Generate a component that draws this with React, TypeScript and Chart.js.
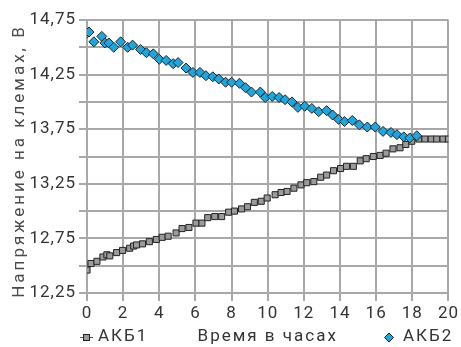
import React, { useEffect, useRef } from 'react';
import { Chart, registerables } from 'chart.js';
Chart.register(...registerables);

const hoursAKB1 = [0, 0.22, 0.55, 0.88, 1.1, 1.26, 1.64, 1.97, 2.36, 2.58, 2.74, 3.07, 3.45, 3.84, 4.16, 4.49, 4.93, 5.26, 5.64, 6.03, 6.36, 6.68, 7.07, 7.45, 7.84, 8.16, 8.55, 8.88, 9.26, 9.64, 9.97, 10.41, 10.74, 11.07, 11.45, 11.84, 12.16, 12.55, 12.93, 13.26, 13.64, 14.03, 14.36, 14.74, 15.12, 15.45, 15.84, 16.22, 16.55, 16.93, 17.32, 17.64, 17.97, 18.36, 18.7, 19.05, 19.35, 19.7, 20.0];
const voltsAKB1 = [12.46, 12.52, 12.54, 12.58, 12.60, 12.59, 12.62, 12.64, 12.66, 12.68, 12.69, 12.70, 12.72, 12.74, 12.76, 12.77, 12.80, 12.84, 12.85, 12.89, 12.89, 12.94, 12.95, 12.95, 12.99, 13.00, 13.02, 13.04, 13.08, 13.09, 13.12, 13.15, 13.17, 13.18, 13.21, 13.24, 13.26, 13.27, 13.31, 13.33, 13.37, 13.39, 13.41, 13.41, 13.46, 13.48, 13.50, 13.51, 13.53, 13.57, 13.58, 13.61, 13.64, 13.66, 13.66, 13.66, 13.66, 13.66, 13.66];

const hoursAKB2 = [0, 0.11, 0.38, 0.82, 0.99, 1.21, 1.48, 1.86, 2.25, 2.52, 2.96, 3.29, 3.67, 4.0, 4.38, 4.77, 5.04, 5.48, 5.86, 6.25, 6.58, 6.96, 7.29, 7.67, 8.0, 8.44, 8.77, 9.10, 9.59, 9.86, 10.25, 10.63, 10.96, 11.34, 11.67, 12.05, 12.44, 12.82, 13.26, 13.59, 13.92, 14.25, 14.68, 15.07, 15.51, 15.95, 16.38, 16.82, 17.15, 17.53, 17.86, 18.25];
const voltsAKB2 = [14.63, 14.64, 14.55, 14.60, 14.54, 14.54, 14.50, 14.55, 14.50, 14.52, 14.48, 14.45, 14.44, 14.39, 14.38, 14.35, 14.36, 14.31, 14.27, 14.27, 14.24, 14.23, 14.21, 14.18, 14.18, 14.17, 14.13, 14.09, 14.09, 14.04, 14.05, 14.04, 14.02, 14.00, 13.95, 13.96, 13.94, 13.91, 13.92, 13.88, 13.84, 13.82, 13.83, 13.79, 13.77, 13.77, 13.73, 13.72, 13.70, 13.68, 13.67, 13.69];

const seriesNames = ['АКБ1', 'АКБ2'];
const xTitle = 'Время в часах';
const yTitle = 'Напряжение на клемах, В';
const yMin = 12.25;
const yMax = 14.75;
const xMin = 0;
const xMax = 20;

const FONT = 'Roboto';
const TEXT = '#333333';
const YTITLE = '#4a4a4a';
const GRID = '#a8a8a8';
const GREY_FILL = '#9b9b9b';
const BLUE_FILL = '#1fa6df';
const EDGE = '#222222';

const textPlugin = {
  id: 'textSpacing',
  beforeDraw(chart: any) {
    chart.ctx.letterSpacing = '1px';
  },
  afterDraw(chart: any) {
    const ctx = chart.ctx;
    const area = chart.chartArea;
    const y = 337;
    ctx.save();
    ctx.font = `17px ${FONT}`;
    ctx.textBaseline = 'middle';
    ctx.letterSpacing = '2px';
    // x title
    ctx.textAlign = 'center';
    ctx.fillStyle = TEXT;
    ctx.fillText(xTitle, (area.left + area.right) / 2, y);
    ctx.textAlign = 'left';
    // АКБ1
    ctx.strokeStyle = '#555';
    ctx.lineWidth = 1;
    ctx.beginPath();
    ctx.moveTo(80, y + 0.5);
    ctx.lineTo(93, y + 0.5);
    ctx.stroke();
    ctx.fillStyle = GREY_FILL;
    ctx.fillRect(83, y - 3, 7, 7);
    ctx.strokeStyle = EDGE;
    ctx.strokeRect(83.5, y - 2.5, 6, 6);
    ctx.fillStyle = TEXT;
    ctx.fillText(seriesNames[0], 98, y);
    // АКБ2
    ctx.beginPath();
    ctx.moveTo(389, y - 4);
    ctx.lineTo(393.5, y + 0.5);
    ctx.lineTo(389, y + 5);
    ctx.lineTo(384.5, y + 0.5);
    ctx.closePath();
    ctx.fillStyle = BLUE_FILL;
    ctx.fill();
    ctx.strokeStyle = EDGE;
    ctx.stroke();
    ctx.fillStyle = TEXT;
    ctx.fillText(seriesNames[1], 403, y);
    // y title
    ctx.letterSpacing = '3px';
    ctx.translate(20, 161);
    ctx.rotate(-Math.PI / 2);
    ctx.textAlign = 'center';
    ctx.fillStyle = YTITLE;
    ctx.fillText(yTitle, 0, 0);
    ctx.restore();
  },
};

export default function App() {
  const ref = useRef<HTMLCanvasElement | null>(null);
  useEffect(() => {
    if (!ref.current) return;
    const chart = new Chart(ref.current, {
      type: 'scatter',
      data: {
        datasets: [
          {
            label: seriesNames[1],
            data: hoursAKB2.map((h, i) => ({ x: h, y: voltsAKB2[i] })),
            pointStyle: 'rectRot',
            pointRadius: 5,
            backgroundColor: BLUE_FILL,
            borderColor: EDGE,
            borderWidth: 1,
            showLine: false,
          },
          {
            label: seriesNames[0],
            data: hoursAKB1.map((h, i) => ({ x: h, y: voltsAKB1[i] })),
            pointStyle: 'rect',
            pointRadius: 4.3,
            backgroundColor: GREY_FILL,
            borderColor: EDGE,
            borderWidth: 1,
            showLine: false,
          },
        ],
      },
      options: {
        animation: false,
        responsive: false,
        devicePixelRatio: 1,
        layout: { padding: { top: 20, right: 9, left: 0, bottom: 0 } },
        plugins: {
          legend: { display: false },
          tooltip: { enabled: false },
        },
        scales: {
          x: {
            type: 'linear',
            min: xMin,
            max: xMax,
            ticks: {
              stepSize: 2,
              color: TEXT,
              font: { family: FONT, size: 17 },
              maxRotation: 0,
              padding: 3,
            },
            grid: { color: GRID, lineWidth: 2, tickLength: 8 },
            border: { color: GRID, width: 2 },
            afterFit: (scale: any) => {
              scale.height = 54;
            },
          },
          y: {
            type: 'linear',
            min: yMin,
            max: yMax,
            ticks: {
              stepSize: 0.25,
              color: TEXT,
              font: { family: FONT, size: 17 },
              padding: 3,
              callback: (v: any) => {
                const k = Math.round((Number(v) - yMin) / 0.25);
                if (k % 2 !== 0) return '';
                return Number(v).toFixed(2).replace('.', ',');
              },
            },
            grid: { color: GRID, lineWidth: 2, tickLength: 8 },
            border: { color: GRID, width: 2 },
            afterFit: (scale: any) => {
              scale.width = 87;
            },
          },
        },
      },
      plugins: [textPlugin],
    });
    return () => chart.destroy();
  }, []);
  return (
    <div style={{ position: 'absolute', left: 0, top: 0, width: 461, height: 347, background: '#fff' }}>
      <canvas ref={ref} width={461} height={347} />
    </div>
  );
}
